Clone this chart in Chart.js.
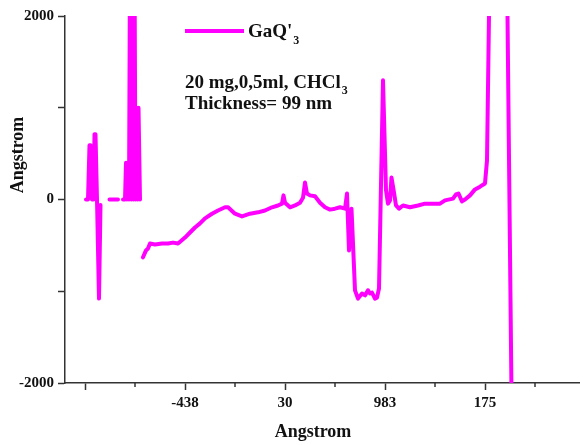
<!DOCTYPE html>
<html>
<head>
<meta charset="utf-8">
<script src="https://cdn.jsdelivr.net/npm/chart.js@4.4.1/dist/chart.umd.min.js"></script>
<style>
    html, body { margin: 0; padding: 0; background: #fff; }
    #wrap { width: 580px; height: 445px; position: relative; }
</style>
</head>
<body>
<div id="wrap"><canvas id="thicknessChart"></canvas></div>
<script>
// positions along the x axis (1 unit = one labelled tick), null in angstrom = gap
const xPos = [
    0.01, 0.03, 0.045, 0.055, 0.07, 0.085, 0.095, 0.105, 0.12, 0.14, 0.155,
    0.2,
    0.245, 0.33,
    0.355,
    0.38, 0.40, 0.41, 0.42, 0.43, 0.44, 0.45, 0.465, 0.475, 0.485, 0.495, 0.505, 0.515, 0.525, 0.535, 0.55,
    0.565,
    0.58, 0.61, 0.63, 0.65, 0.70, 0.77, 0.83, 0.88, 0.93, 1.00, 1.05, 1.10, 1.15, 1.20, 1.27, 1.33, 1.40, 1.43,
    1.50, 1.57, 1.65, 1.73, 1.80, 1.87, 1.93, 1.97, 1.985, 2.00, 2.05, 2.10, 2.15, 2.18, 2.20, 2.22, 2.25, 2.30,
    2.35, 2.40, 2.45, 2.50, 2.55, 2.60, 2.62, 2.64, 2.665, 2.70, 2.73, 2.77, 2.80, 2.83, 2.85, 2.87, 2.90, 2.92,
    2.94, 2.98, 3.01, 3.03, 3.05, 3.065, 3.09, 3.11, 3.14, 3.18, 3.25, 3.33, 3.40, 3.48, 3.55, 3.60, 3.68, 3.71,
    3.735, 3.77, 3.80, 3.85, 3.90, 3.95, 4.00, 4.02, 4.04, 4.05, 4.22, 4.225, 4.265
];
const angstrom = [
    0, 0, 590, 590, 0, 0, 710, 710, 0, -1080, -60,
    null,
    0, 0,
    null,
    0, 0, 400, 0, 400, 0, 2600, 0, 2600, 0, 2600, 0, 1000, 0, 1000, 0,
    null,
    -630, -555, -535, -480, -490, -480, -480, -470, -480, -415, -360, -305, -260, -205, -155, -120, -85, -85,
    -155, -185, -155, -140, -120, -85, -65, -45, 45, -35, -85, -65, -35, 20, 185, 65, 45, 35,
    -35, -85, -110, -100, -85, -100, 65, -555, -100, -990, -1080, -1025, -1045, -990, -1025, -1015, -1080, -1070,
    -970, 1300, 100, -45, -10, 240, 75, -65, -100, -65, -85, -65, -45, -45, -45, -10, 10, 55,
    65, -20, 0, 45, 110, 140, 175, 425, 2000, 20000, 20000, 2000, -2100
];

const xTickValues = [0, 1, 2, 3, 4];
const xTickLabels = ['', '-438', '30', '983', '175'];
const xMinorTicks = [0.5, 1.5, 2.5, 3.5, 4.5];
const yTickValues = [-2000, -1000, 0, 1000, 2000];
const yTickLabels = ['-2000', '', '0', '', '2000'];

const seriesName = "GaQ'";
const noteLine1 = '20 mg,0,5ml, CHCl';
const noteLine2 = 'Thickness= 99 nm';
const axisTitle = 'Angstrom';

const FONT = '"Liberation Serif", "Times New Roman", serif';
const MAGENTA = '#ff00ff';

const extrasPlugin = {
    id: 'extras',
    afterDraw(chart) {
        const ctx = chart.ctx;
        const xs = chart.scales.x;
        const area = chart.chartArea;
        ctx.save();

        // short minor ticks
        ctx.strokeStyle = '#333';
        ctx.lineWidth = 1.5;
        xMinorTicks.forEach(v => {
            const px = Math.round(xs.getPixelForValue(v));
            ctx.beginPath();
            ctx.moveTo(px, area.bottom);
            ctx.lineTo(px, area.bottom + 4);
            ctx.stroke();
        });

        // legend
        ctx.strokeStyle = MAGENTA;
        ctx.lineWidth = 4;
        ctx.beginPath();
        ctx.moveTo(185, 31);
        ctx.lineTo(244, 31);
        ctx.stroke();

        ctx.fillStyle = '#111';
        ctx.textBaseline = 'alphabetic';
        ctx.textAlign = 'left';
        ctx.font = 'bold 19px ' + FONT;
        ctx.fillText(seriesName, 248, 37);
        let w = ctx.measureText(seriesName).width;
        ctx.font = 'bold 12px ' + FONT;
        ctx.fillText('3', 248 + w + 1, 44);

        // note
        ctx.font = 'bold 19px ' + FONT;
        ctx.fillText(noteLine1, 185, 88);
        w = ctx.measureText(noteLine1).width;
        ctx.font = 'bold 12px ' + FONT;
        ctx.fillText('3', 185 + w + 1, 94);
        ctx.font = 'bold 19px ' + FONT;
        ctx.fillText(noteLine2, 185, 109);

        // axis titles
        ctx.font = 'bold 18px ' + FONT;
        ctx.textAlign = 'center';
        ctx.textBaseline = 'middle';
        ctx.fillText(axisTitle, 313, 432);
        ctx.translate(18, 155);
        ctx.rotate(-Math.PI / 2);
        ctx.fillText(axisTitle, 0, 0);

        ctx.restore();
    }
};

const points = xPos.map((x, i) => ({ x: x, y: angstrom[i] }));

new Chart(document.getElementById('thicknessChart'), {
    type: 'line',
    data: {
        datasets: [{
            label: seriesName,
            data: points,
            borderColor: MAGENTA,
            backgroundColor: MAGENTA,
            borderWidth: 4,
            pointRadius: 0,
            tension: 0,
            spanGaps: false,
            borderJoinStyle: 'round',
            borderCapStyle: 'round'
        }]
    },
    options: {
        responsive: true,
        maintainAspectRatio: false,
        animation: false,
        layout: { padding: { top: 16, right: 0, left: 0, bottom: 0 } },
        plugins: {
            legend: { display: false },
            tooltip: { enabled: false }
        },
        scales: {
            x: {
                type: 'linear',
                min: -0.2,
                max: 4.95,
                afterBuildTicks: axis => { axis.ticks = xTickValues.map(v => ({ value: v })); },
                afterFit: axis => { axis.height = 62; },
                ticks: {
                    autoSkip: false,
                    maxRotation: 0,
                    padding: 4,
                    color: '#111',
                    font: { family: FONT, size: 15, weight: 'bold' },
                    callback: v => xTickLabels[xTickValues.indexOf(v)] ?? ''
                },
                grid: { drawOnChartArea: false, tickLength: 7, tickColor: '#333', tickWidth: 1.5 },
                border: { display: true, color: '#333', width: 1.5 }
            },
            y: {
                min: -2000,
                max: 2000,
                afterBuildTicks: axis => { axis.ticks = yTickValues.map(v => ({ value: v })); },
                afterFit: axis => { axis.width = 65; },
                ticks: {
                    padding: 4,
                    color: '#111',
                    font: { family: FONT, size: 15, weight: 'bold' },
                    callback: v => yTickLabels[yTickValues.indexOf(v)] ?? ''
                },
                grid: { drawOnChartArea: false, tickLength: 7, tickColor: '#333', tickWidth: 1.5 },
                border: { display: true, color: '#333', width: 1.5 }
            }
        }
    },
    plugins: [extrasPlugin]
});
</script>
</body>
</html>
